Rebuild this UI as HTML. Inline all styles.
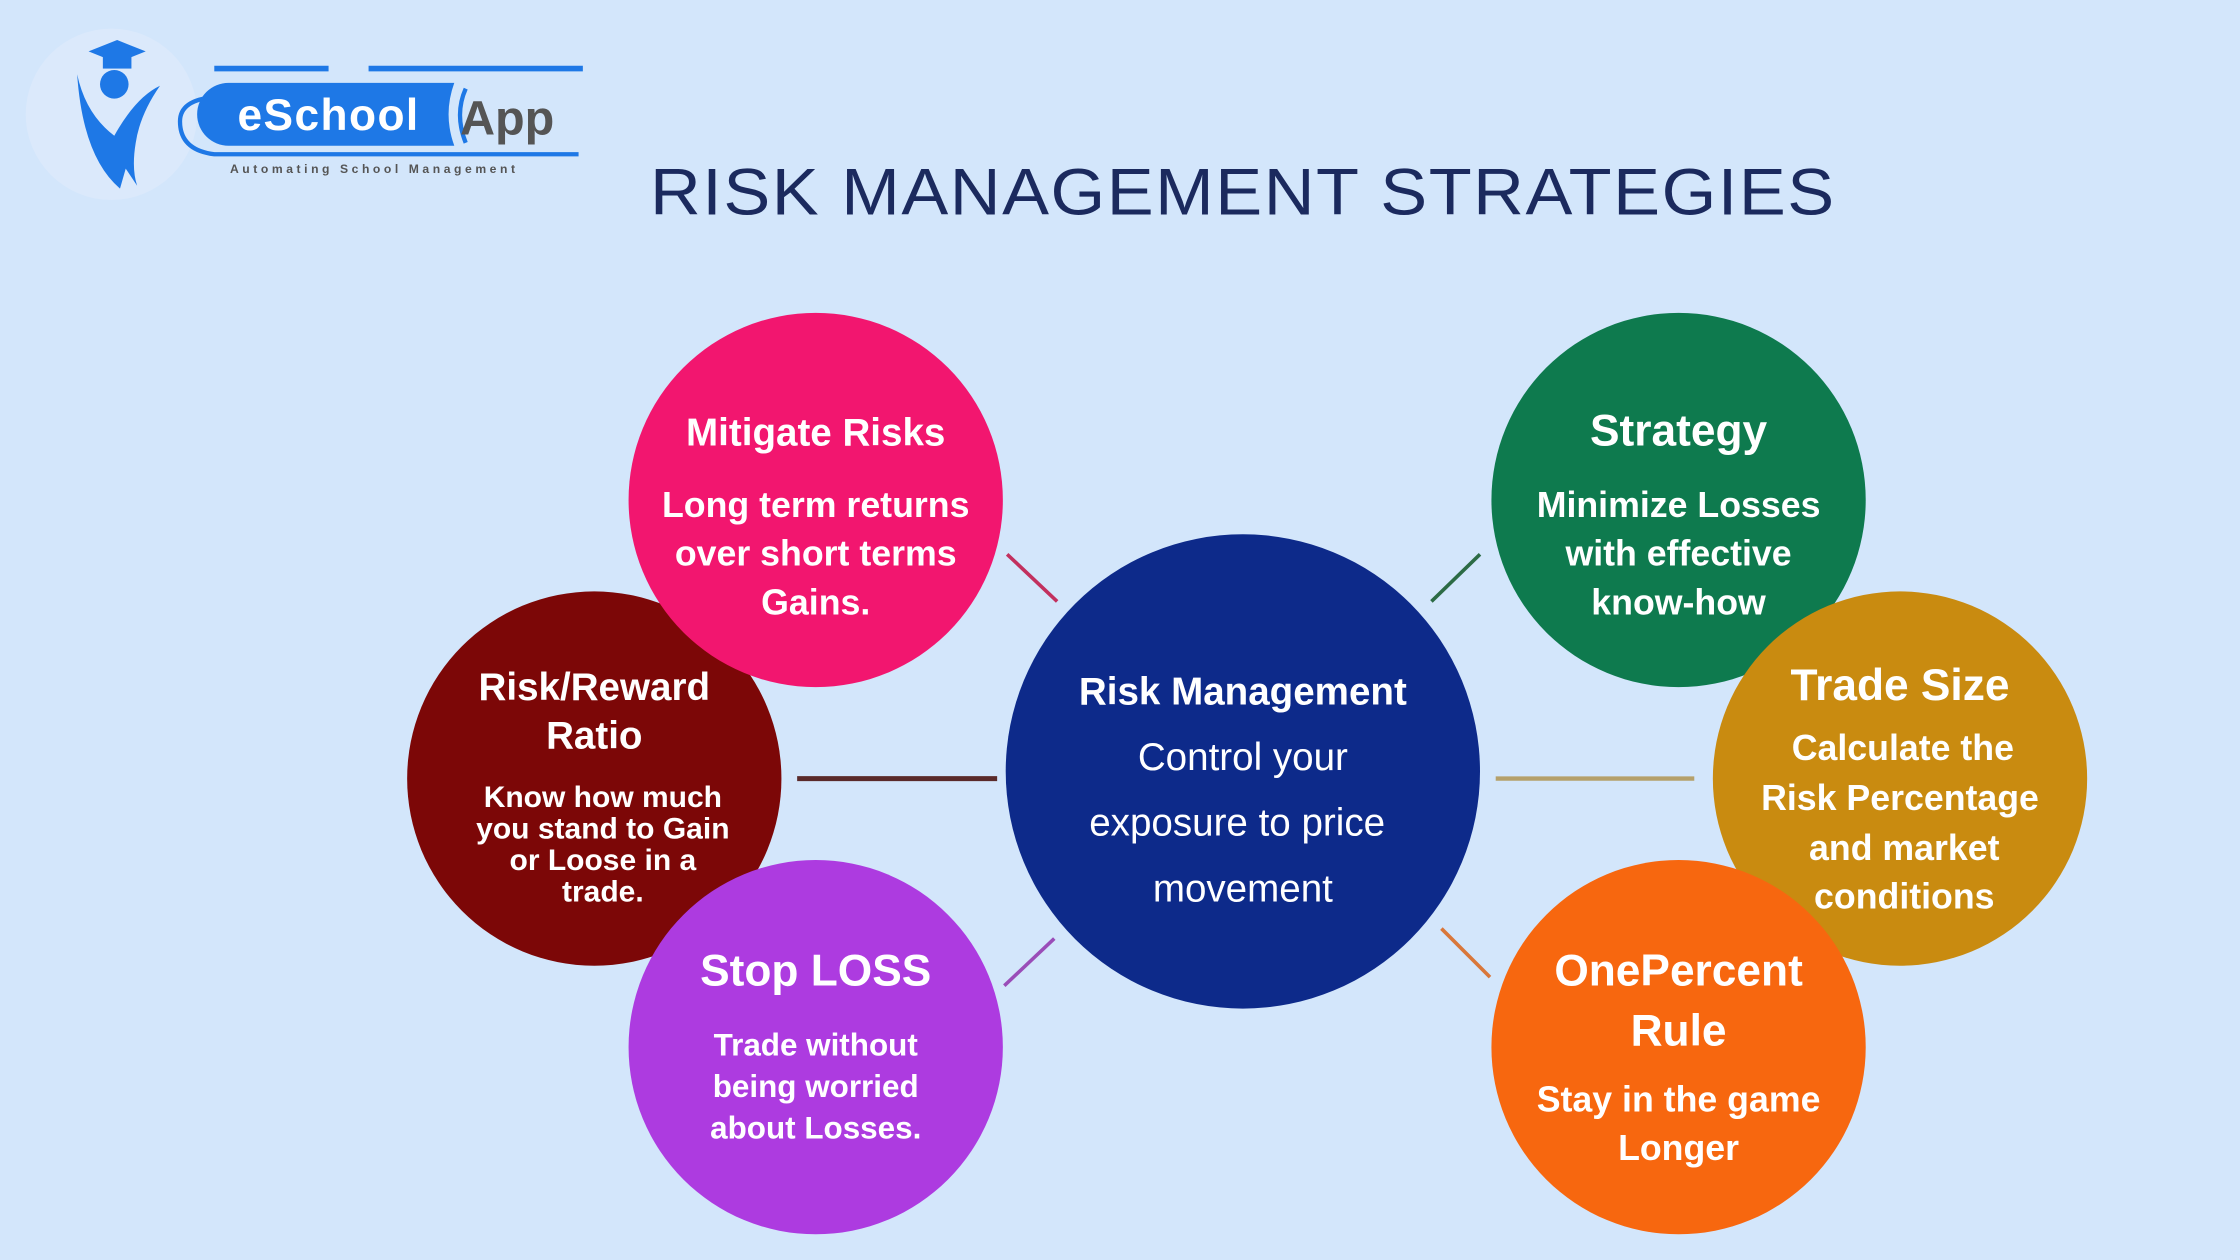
<!DOCTYPE html>
<html><head><meta charset="utf-8"><style>
html,body{margin:0;padding:0;background:#d3e6fb;}
svg{display:block;}
text{font-family:"Liberation Sans",sans-serif;font-weight:bold;fill:#fff;text-anchor:middle;}
</style></head><body>
<svg width="2240" height="1260" viewBox="0 0 1568 882" xmlns="http://www.w3.org/2000/svg">
<rect width="1568" height="882" fill="#d3e6fb"/>
<!-- logo -->
<circle cx="78" cy="80" r="60" fill="#dbe9fb"/>
<polygon points="62,36 82,28 102,36 82,44" fill="#1e78e6"/>
<rect x="72" y="38" width="20" height="10" fill="#1e78e6"/>
<circle cx="80" cy="59" r="10" fill="#1e78e6"/>
<path d="M54,52 Q60,80 80,95 Q95,68 112,60 Q98,80 95,100 Q92,118 96,130 L88,118 L84,132 Q58,110 54,52 Z" fill="#1e78e6"/>
<path d="M150,68 Q126,70 126,85 Q126,105 150,108 L405,108" fill="none" stroke="#1e78e6" stroke-width="3"/>
<line x1="150" y1="48" x2="230" y2="48" stroke="#1e78e6" stroke-width="4"/>
<line x1="258" y1="48" x2="408" y2="48" stroke="#1e78e6" stroke-width="4"/>
<path d="M160,58 L318,58 Q310,80 318,102 L160,102 A22,22 0 0 1 160,58 Z" fill="#1e78e6"/>
<path d="M326,62 Q318,80 326,100" fill="none" stroke="#1e78e6" stroke-width="3"/>
<text x="230" y="91" font-size="31" letter-spacing="1">eSchool</text>
<text x="355" y="94" font-size="34" style="fill:#555">App</text>
<text x="262" y="121" font-size="8.5" style="fill:#555" letter-spacing="2.5">Automating School Management</text>
<!-- title -->
<text x="870" y="150" font-size="46" style="fill:#1b2a5e;font-weight:normal" letter-spacing="1" textLength="830" lengthAdjust="spacingAndGlyphs">RISK MANAGEMENT STRATEGIES</text>
<!-- connectors -->
<line x1="705" y1="388" x2="740" y2="421" stroke="#c2305e" stroke-width="2.5"/>
<line x1="1002" y1="421" x2="1036" y2="388" stroke="#2c6b45" stroke-width="2.5"/>
<line x1="558" y1="545" x2="698" y2="545" stroke="#5a2a2a" stroke-width="3.5"/>
<line x1="1047" y1="545" x2="1186" y2="545" stroke="#b5a06a" stroke-width="3"/>
<line x1="703" y1="690" x2="738" y2="657" stroke="#9a4db8" stroke-width="2.5"/>
<line x1="1009" y1="650" x2="1043" y2="684" stroke="#d9773a" stroke-width="2.5"/>
<!-- circles -->
<circle cx="416" cy="545" r="131" fill="#7c0707"/>
<circle cx="571" cy="350" r="131" fill="#f2166f"/>
<circle cx="571" cy="733" r="131" fill="#ad3be0"/>
<circle cx="1175" cy="350" r="131" fill="#0e7a4e"/>
<circle cx="1330" cy="545" r="131" fill="#c98b10"/>
<circle cx="1175" cy="733" r="131" fill="#f7670f"/>
<circle cx="870" cy="540" r="166" fill="#0d2a8a"/>
<!-- texts -->
<text x="571" y="312" font-size="27">Mitigate Risks</text>
<text x="571" y="362" font-size="25">Long term returns</text>
<text x="571" y="396" font-size="25">over short terms</text>
<text x="571" y="430" font-size="25">Gains.</text>

<text x="1175" y="312" font-size="31">Strategy</text>
<text x="1175" y="362" font-size="25">Minimize Losses</text>
<text x="1175" y="396" font-size="25">with effective</text>
<text x="1175" y="430" font-size="25">know-how</text>

<text x="416" y="490" font-size="27">Risk/Reward</text>
<text x="416" y="524" font-size="27">Ratio</text>
<text x="422" y="565" font-size="21">Know how much</text>
<text x="422" y="587" font-size="21">you stand to Gain</text>
<text x="422" y="609" font-size="21">or Loose in a</text>
<text x="422" y="631" font-size="21">trade.</text>

<text x="1330" y="490" font-size="31">Trade Size</text>
<text x="1332" y="532" font-size="25">Calculate the</text>
<text x="1330" y="567" font-size="25">Risk Percentage</text>
<text x="1333" y="602" font-size="25">and market</text>
<text x="1333" y="636" font-size="25">conditions</text>

<text x="571" y="690" font-size="31">Stop LOSS</text>
<text x="571" y="739" font-size="22">Trade without</text>
<text x="571" y="768" font-size="22">being worried</text>
<text x="571" y="797" font-size="22">about Losses.</text>

<text x="1175" y="690" font-size="31">OnePercent</text>
<text x="1175" y="732" font-size="31">Rule</text>
<text x="1175" y="778" font-size="25">Stay in the game</text>
<text x="1175" y="812" font-size="25">Longer</text>

<text x="870" y="493" font-size="27">Risk Management</text>
<text x="870" y="539" font-size="27" style="font-weight:normal">Control your</text>
<text x="866" y="585" font-size="27" style="font-weight:normal">exposure to price</text>
<text x="870" y="631" font-size="27" style="font-weight:normal">movement</text>
</svg>
</body></html>
